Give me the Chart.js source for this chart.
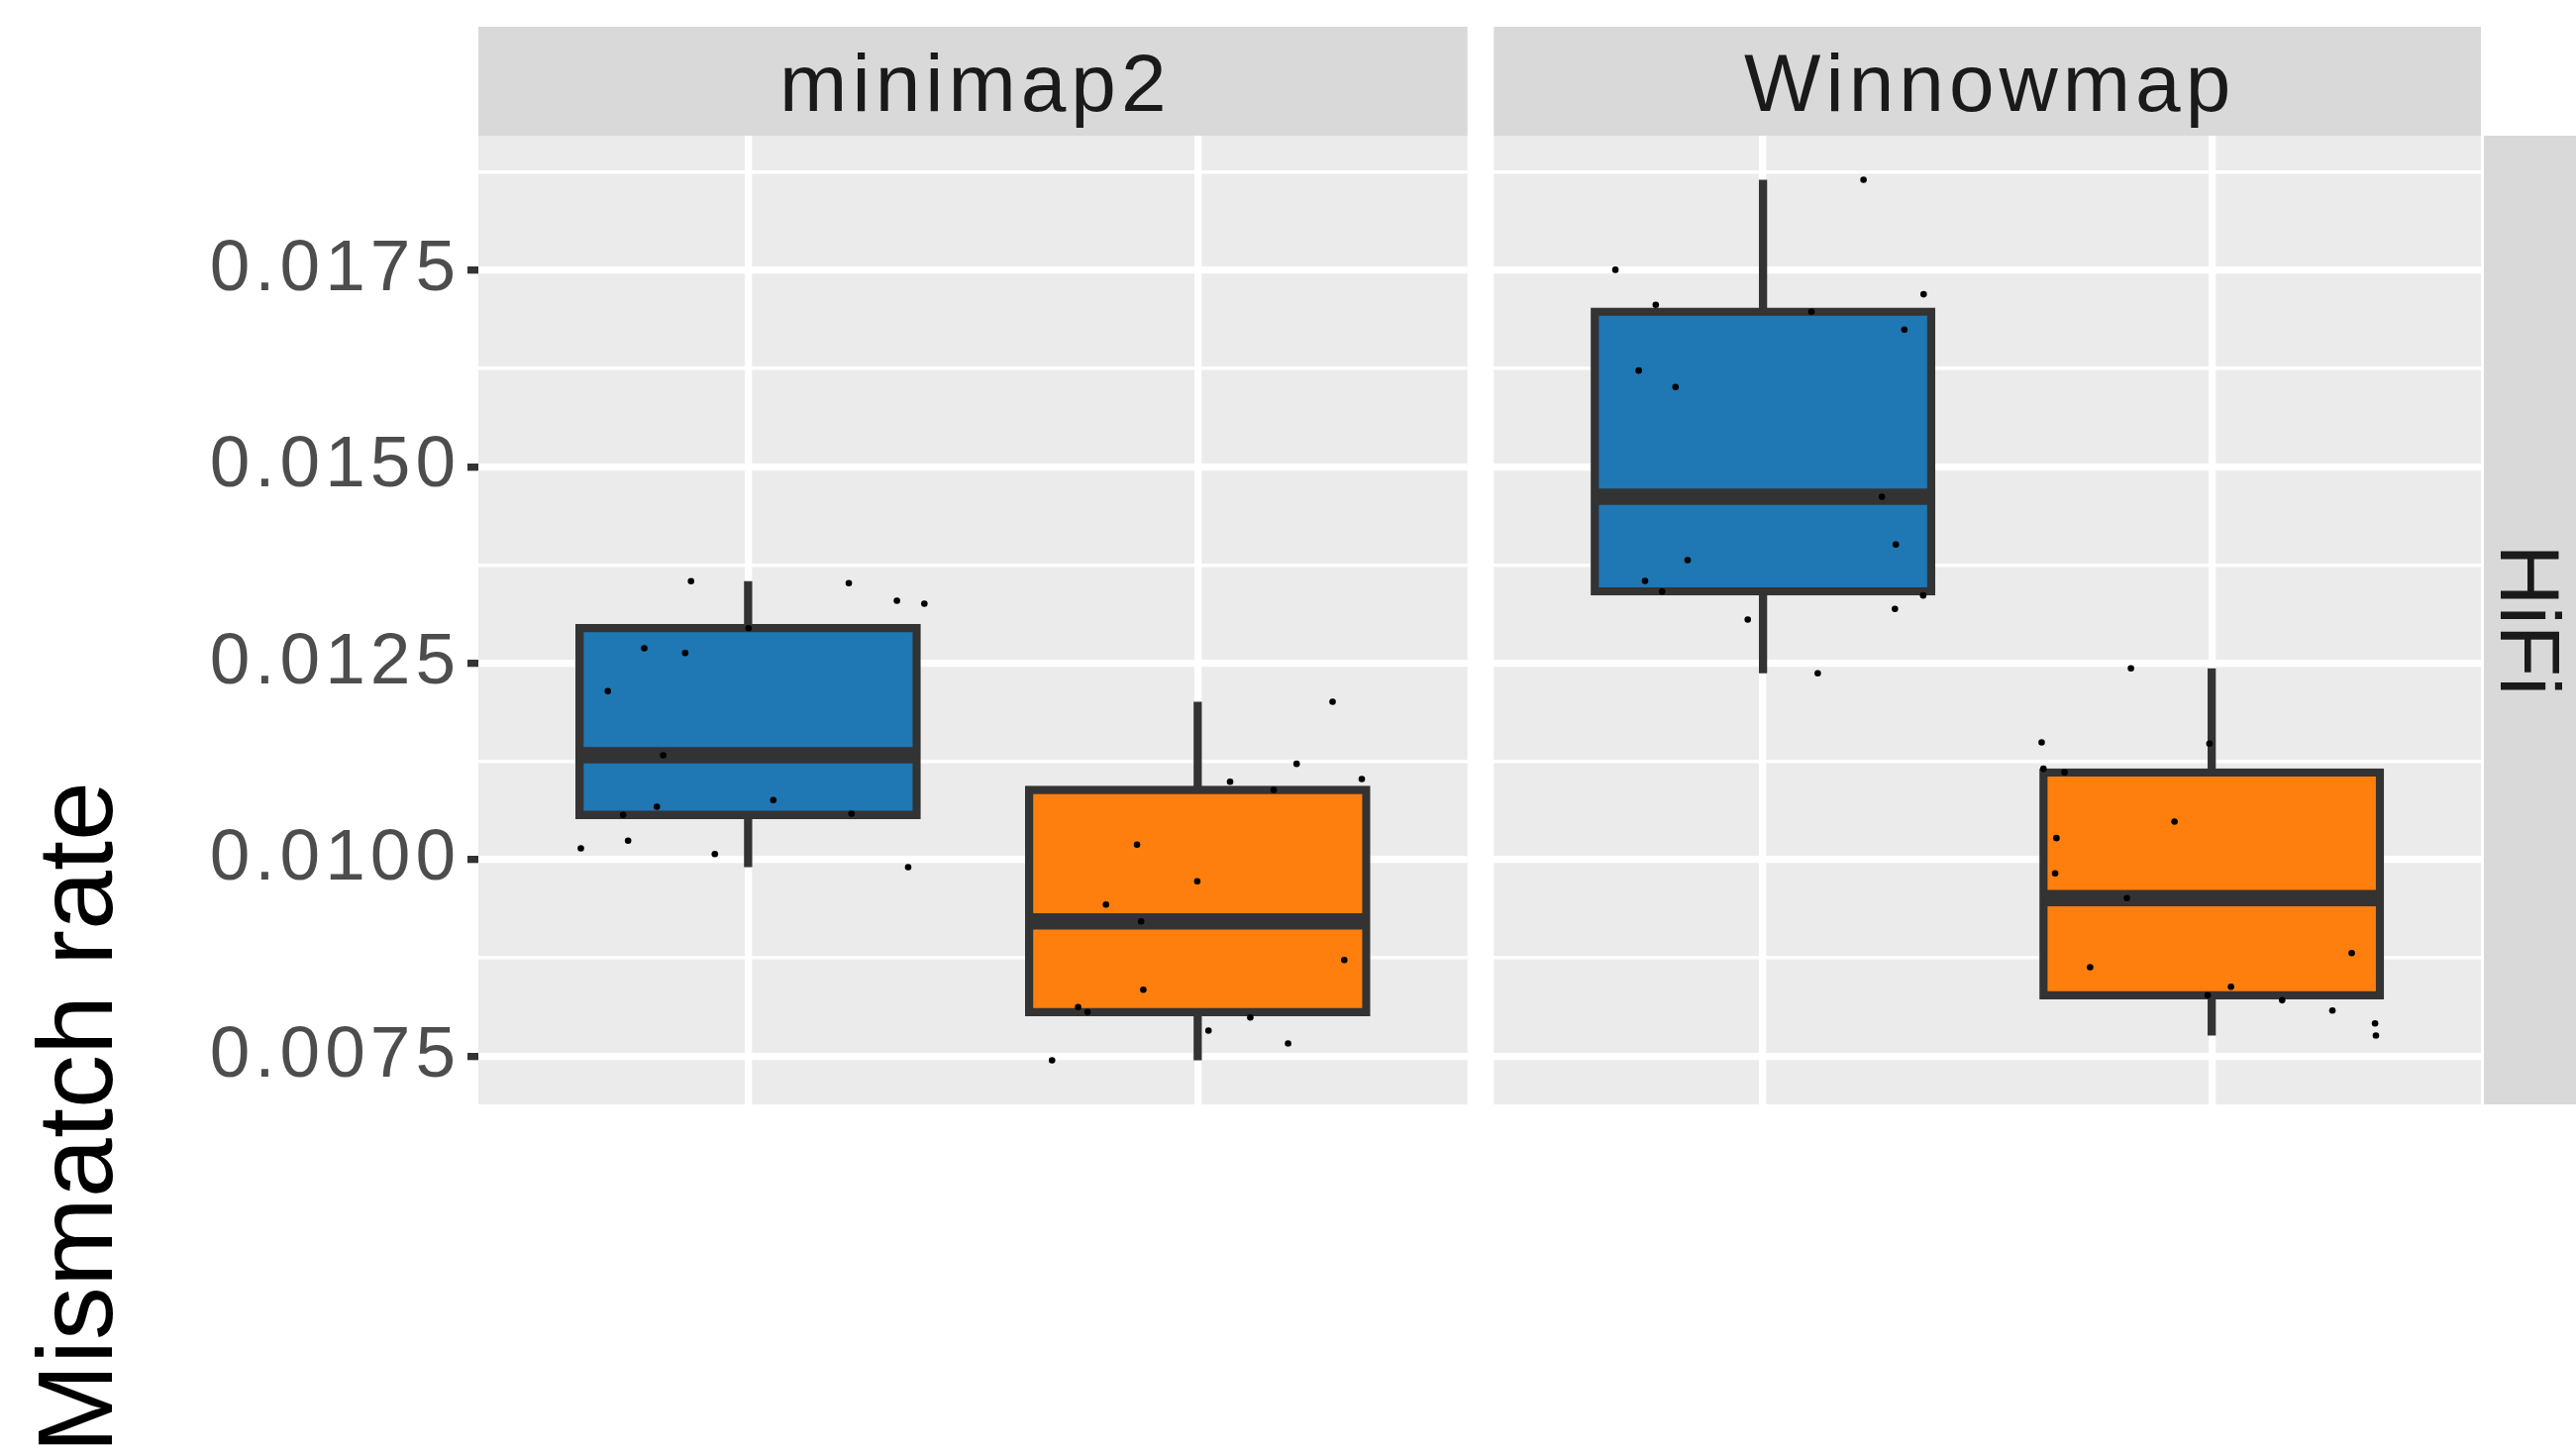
<!DOCTYPE html>
<html>
<head>
<meta charset="utf-8">
<title>Mismatch rate by aligner</title>
<script src="https://cdn.jsdelivr.net/npm/chart.js@4.4.1/dist/chart.umd.min.js"></script>
<style>
  html, body { margin: 0; padding: 0; background: #ffffff; }
  body { width: 2601px; height: 1470px; position: relative; overflow: hidden; }
  canvas { position: absolute; top: 0; }
  #panelLeft { left: 0; }
  #panelRight { left: 1505px; }
</style>
</head>
<body>
<canvas id="panelLeft" width="1485" height="1470"></canvas>
<canvas id="panelRight" width="1096" height="1470"></canvas>
<script>
// ---- data -------------------------------------------------------------
const FACETS = ['minimap2', 'Winnowmap'];
const ROW_STRIP = 'HiFi';
const Y_TITLE = 'Mismatch rate';
const GROUP_POS = [1, 2];
const GROUP_FILL = ['#1F77B4', '#FF7F0E'];
const Y_BREAKS = [0.0075, 0.0100, 0.0125, 0.0150, 0.0175];
const Y_BREAK_LABELS = ['0.0075', '0.0100', '0.0125', '0.0150', '0.0175'];

// mismatch rate per run, with the horizontal jitter (in category units) of each dot
const minimap2GroupA = [0.013543, 0.013518, 0.013295, 0.013257, 0.012946, 0.012690, 0.012631, 0.012145, 0.011330,
  0.010759, 0.010674, 0.010570, 0.010586, 0.010242, 0.010145, 0.010073, 0.009906];
const minimap2GroupAJitter = [-0.127, 0.224, 0.331, 0.392, 0.001, -0.231, -0.140, -0.312, -0.189,
  0.056, -0.203, -0.278, 0.230, -0.267, -0.372, -0.074, 0.356];

const minimap2GroupB = [0.012010, 0.011220, 0.011027, 0.010993, 0.010888, 0.010192, 0.009725, 0.009430, 0.009216,
  0.008725, 0.008347, 0.008125, 0.008062, 0.007994, 0.007826, 0.007663, 0.007448];
const minimap2GroupBJitter = [0.300, 0.220, 0.365, 0.072, 0.169, -0.135, -0.001, -0.204, -0.126,
  0.326, -0.121, -0.266, -0.245, 0.117, 0.024, 0.201, -0.324];

const winnowmapGroupA = [0.018650, 0.017504, 0.017193, 0.017059, 0.016971, 0.016744, 0.016222, 0.016013, 0.014618,
  0.014010, 0.013812, 0.013547, 0.013412, 0.013362, 0.013190, 0.013056, 0.012371];
const winnowmapGroupAJitter = [0.224, -0.329, 0.358, -0.239, 0.108, 0.315, -0.277, -0.195, 0.265,
  0.296, -0.168, -0.263, -0.225, 0.357, 0.294, -0.034, 0.122];

const winnowmapGroupB = [0.012434, 0.011493, 0.011477, 0.011157, 0.011111, 0.010485, 0.010275, 0.009826, 0.009511,
  0.008813, 0.008633, 0.008385, 0.008276, 0.008213, 0.008082, 0.007918, 0.007763];
const winnowmapGroupBJitter = [-0.180, -0.379, -0.005, -0.375, -0.328, -0.083, -0.346, -0.349, -0.189,
  0.312, -0.271, 0.043, -0.009, 0.157, 0.269, 0.364, 0.366];

// ---- styling ----------------------------------------------------------
const FONT = "'Liberation Sans', Arial, Helvetica, sans-serif";
const LINE_W = 8.3;          // box outline / whisker width
const BOX_WIDTH = 0.75;      // box width in category units
const MAJOR_GRID = 7.3;
const MINOR_GRID = 3.6;
const STRIP_TOP = 27;
const STRIP_BASELINE = 112;
const STRIP_FONT = 82;
const STRIP_SPACING = 5;
const TICK_SPACING = 5;
const PANEL_BG = '#EBEBEB';
const STRIP_BG = '#D9D9D9';
const INK = '#333333';

// ---- box statistics (type-7 quantiles, 1.5 IQR whiskers) --------------
function quantile(sorted, p) {
  const h = (sorted.length - 1) * p;
  const lo = Math.floor(h);
  const hi = Math.min(lo + 1, sorted.length - 1);
  return sorted[lo] + (h - lo) * (sorted[hi] - sorted[lo]);
}
function boxStats(values) {
  const s = [...values].sort((a, b) => a - b);
  const q1 = quantile(s, 0.25), med = quantile(s, 0.5), q3 = quantile(s, 0.75);
  const iqr = q3 - q1;
  const lo = s.find(v => v >= q1 - 1.5 * iqr);
  const hi = [...s].reverse().find(v => v <= q3 + 1.5 * iqr);
  return { q1, med, q3, lo, hi };
}

const panels = [
  { facet: FACETS[0], groups: [[minimap2GroupA, minimap2GroupAJitter], [minimap2GroupB, minimap2GroupBJitter]] },
  { facet: FACETS[1], groups: [[winnowmapGroupA, winnowmapGroupAJitter], [winnowmapGroupB, winnowmapGroupBJitter]] }
];

// shared y range: data range expanded by 5% on each side
const allValues = [].concat(minimap2GroupA, minimap2GroupB, winnowmapGroupA, winnowmapGroupB);
const dMin = Math.min(...allValues), dMax = Math.max(...allValues);
const Y_MIN = dMin - 0.05 * (dMax - dMin);
const Y_MAX = dMax + 0.05 * (dMax - dMin);

// major breaks plus minor breaks halfway between them
const breakStep = Y_BREAKS[1] - Y_BREAKS[0];
const gridValues = [];
if (Y_BREAKS[0] - breakStep / 2 >= Y_MIN) gridValues.push(Y_BREAKS[0] - breakStep / 2);
Y_BREAKS.forEach((b, i) => {
  gridValues.push(b);
  const mid = b + breakStep / 2;
  if (i < Y_BREAKS.length - 1 || mid <= Y_MAX) gridValues.push(mid);
});
const isMajor = v => Y_BREAKS.some(b => Math.abs(b - v) < 1e-9);

// ---- datasets ---------------------------------------------------------
function buildDatasets(panel) {
  const sets = [];
  panel.groups.forEach(([values, jitter], g) => {
    const pos = GROUP_POS[g];
    const st = boxStats(values);
    sets.push({
      type: 'line', order: 4,
      data: [{ x: pos, y: st.lo }, { x: pos, y: st.hi }],
      borderColor: INK, borderWidth: LINE_W, borderCapStyle: 'butt',
      pointRadius: 0, pointHoverRadius: 0
    });
    sets.push({
      type: 'bar', order: 3,
      data: [{ x: pos, y: [st.q1, st.q3] }],
      backgroundColor: GROUP_FILL[g], borderColor: INK, borderWidth: LINE_W,
      borderSkipped: false, inflateAmount: LINE_W / 2,
      grouped: false, categoryPercentage: 1, barPercentage: BOX_WIDTH
    });
    sets.push({
      type: 'line', order: 2,
      data: [{ x: pos - BOX_WIDTH / 2, y: st.med }, { x: pos + BOX_WIDTH / 2, y: st.med }],
      borderColor: INK, borderWidth: LINE_W * 2, borderCapStyle: 'butt',
      pointRadius: 0, pointHoverRadius: 0
    });
    sets.push({
      type: 'scatter', order: 1,
      data: values.map((v, i) => ({ x: pos + jitter[i], y: v })),
      pointRadius: 3.3, pointHoverRadius: 3.3,
      pointBackgroundColor: '#000000', pointBorderWidth: 0
    });
  });
  return sets;
}

// ---- panel decoration: background, strips, axis title ------------------
const facetDecor = {
  id: 'facetDecor',
  beforeDraw(chart, args, opts) {
    const { ctx, chartArea: a } = chart;
    ctx.save();
    ctx.fillStyle = PANEL_BG;
    ctx.fillRect(a.left, a.top, a.right - a.left, a.bottom - a.top);
    ctx.fillStyle = STRIP_BG;
    ctx.fillRect(a.left, STRIP_TOP, a.right - a.left, a.top - STRIP_TOP);
    ctx.fillStyle = '#1A1A1A';
    ctx.font = `${STRIP_FONT}px ${FONT}`;
    ctx.textAlign = 'center';
    ctx.textBaseline = 'alphabetic';
    ctx.letterSpacing = `${STRIP_SPACING}px`;
    ctx.fillText(opts.label, (a.left + a.right) / 2 + STRIP_SPACING / 2, STRIP_BASELINE);
    if (opts.rowLabel) {
      const x0 = a.right + 3;
      ctx.fillStyle = STRIP_BG;
      ctx.fillRect(x0, a.top, chart.width - x0, a.bottom - a.top);
      ctx.fillStyle = '#1A1A1A';
      ctx.font = `86px ${FONT}`;
      ctx.letterSpacing = '0px';
      ctx.translate(x0 + 17, (a.top + a.bottom) / 2);
      ctx.rotate(Math.PI / 2);
      ctx.fillText(opts.rowLabel, 0, 0);
    }
    ctx.restore();
    ctx.letterSpacing = `${TICK_SPACING}px`;
  },
  afterDraw(chart, args, opts) {
    const { ctx } = chart;
    ctx.letterSpacing = '0px';
    if (opts.title) {
      ctx.save();
      ctx.fillStyle = '#000000';
      ctx.font = `108px ${FONT}`;
      ctx.textAlign = 'center';
      ctx.textBaseline = 'alphabetic';
      ctx.translate(113, 1128);
      ctx.rotate(-Math.PI / 2);
      ctx.fillText(opts.title, 0, 0);
      ctx.restore();
    }
  }
};

function makeChart(canvasId, panel, withAxis, rowLabel) {
  return new Chart(document.getElementById(canvasId), {
    type: 'bar',
    data: { datasets: buildDatasets(panel) },
    plugins: [facetDecor],
    options: {
      responsive: false,
      animation: false,
      events: [],
      layout: { padding: { top: 137, bottom: 355, left: 0, right: rowLabel ? 96 : 0 } },
      plugins: {
        legend: { display: false },
        tooltip: { enabled: false },
        facetDecor: { label: panel.facet, rowLabel: rowLabel, title: withAxis ? Y_TITLE : null }
      },
      scales: {
        x: {
          type: 'linear', min: 0.4, max: 2.6, offset: false,
          afterBuildTicks: s => { s.ticks = GROUP_POS.map(v => ({ value: v })); },
          afterFit: s => { s.height = 0; },
          ticks: { display: false },
          grid: { offset: false, color: '#FFFFFF', lineWidth: MAJOR_GRID, drawTicks: false },
          border: { display: false }
        },
        y: {
          type: 'linear', min: Y_MIN, max: Y_MAX, beginAtZero: false,
          afterBuildTicks: s => { s.ticks = gridValues.map(v => ({ value: v })); },
          afterFit: s => { s.width = withAxis ? 483 : 0; },
          ticks: {
            display: withAxis, autoSkip: false, padding: 12 - TICK_SPACING,
            color: '#4D4D4D', font: { family: FONT, size: 73 },
            callback: v => {
              const i = Y_BREAKS.findIndex(b => Math.abs(b - v) < 1e-9);
              return i >= 0 ? Y_BREAK_LABELS[i] : '';
            }
          },
          grid: {
            color: '#FFFFFF',
            lineWidth: c => isMajor(c.tick.value) ? MAJOR_GRID : MINOR_GRID,
            drawTicks: withAxis, tickLength: 11,
            tickColor: c => isMajor(c.tick.value) ? INK : 'rgba(0,0,0,0)',
            tickWidth: c => isMajor(c.tick.value) ? MAJOR_GRID : 0
          },
          border: { display: false }
        }
      }
    }
  });
}

makeChart('panelLeft', panels[0], true, null);
makeChart('panelRight', panels[1], false, ROW_STRIP);
</script>
</body>
</html>
